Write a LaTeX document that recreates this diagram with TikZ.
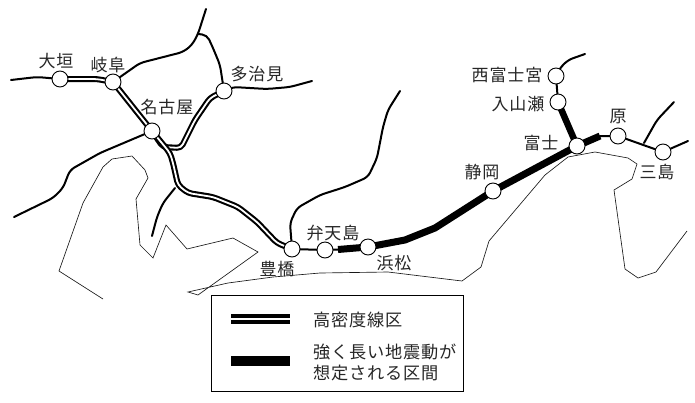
\documentclass[tikz,border=0pt]{standalone}
\usepackage{fontspec}
\setmainfont{Noto Sans CJK JP}[LetterSpace=5]
\usetikzlibrary{backgrounds}
\tikzset{
  station/.style={circle,draw=black,fill=white,line width=0.9pt,minimum size=16pt,inner sep=0pt},
  lbl/.style={font=\fontsize{17}{20}\selectfont,text=black!85,inner sep=0pt},
  legendtxt/.style={font=\fontsize{17.2}{21}\selectfont,text=black!85,inner sep=0pt,anchor=west,align=left},
  branch/.style={draw=black,line width=2pt,rounded corners=5pt,line cap=round},
  dense/.style={draw=black,line width=2.1pt,double=white,double distance=1.8pt,rounded corners=4pt,line join=round},
  thick line/.style={draw=black,line width=7pt,line join=round},
  coast/.style={draw=black!90,line width=0.65pt},
}
\begin{document}
\begin{tikzpicture}[x=1pt,y=-1pt]
\useasboundingbox (0,0) rectangle (695,402);
% stations
\node[station] (ogaki) at (60,79) {};
\node[station] (gifu) at (113,82) {};
\node[station] (nagoya) at (152,131) {};
\node[station] (tajimi) at (224,91) {};
\node[station] (toyohashi) at (292,249) {};
\node[station] (bentenjima) at (325,250) {};
\node[station] (hamamatsu) at (368,247) {};
\node[station] (shizuoka) at (493,191) {};
\node[station] (fuji) at (577,146) {};
\node[station] (hara) at (618,136) {};
\node[station] (mishima) at (663,152) {};
\node[station] (nishifuji) at (556,76) {};
\node[station] (iriyamase) at (558,102) {};
% labels
\node[lbl] (l1) at (56,61) {大垣};
\node[lbl] (l2) at (108,65) {岐阜};
\node[lbl] (l3) at (167,107) {名古屋};
\node[lbl] (l4) at (257,74) {多治見};
\node[lbl] (l5) at (333,233) {弁天島};
\node[lbl] (l6) at (277,269) {豊橋};
\node[lbl] (l7) at (394,263) {浜松};
\node[lbl] (l8) at (482,172) {静岡};
\node[lbl] (l9) at (541,143) {富士};
\node[lbl] (l10) at (618,117) {原};
\node[lbl] (l11) at (657,172) {三島};
\node[lbl] (l12) at (507,75) {西富士宮};
\node[lbl] (l13) at (518,104) {入山瀬};
% free ends and junctions
\coordinate (endW) at (11,80);
\coordinate (endN) at (206,9);
\coordinate (forkN) at (198,34);
\coordinate (endE) at (312,81);
\coordinate (endSW) at (14,217);
\coordinate (forkS) at (175,188);
\coordinate (endS) at (152,236);
\coordinate (endT) at (400,91);
\coordinate (thickA) at (338,249.5);
\coordinate (thickB) at (600,136);
\coordinate (forkH) at (644,143);
\coordinate (endH) at (674,102);
\coordinate (endM) at (688,141);
\coordinate (endF) at (585,54);
\begin{scope}[on background layer]
% thin coastline
\draw[coast] (103,299) -- (59,271) -- (83,203) -- (103,167) -- (112,159) -- (132,156) -- (145,170) -- (148,178) -- (136,199) -- (140,245) -- (153,258) -- (166,225) -- (187,249) -- (233,238) -- (258,252) -- (198,295) -- (188,292) -- (228,283) -- (273,277) -- (320,273) -- (388,272) -- (462,281) -- (481,267) -- (489,241) -- (545,175) -- (568,157) -- (595,152) -- (628,158) -- (637,164) -- (632,179) -- (614,190) -- (625,269) -- (638,278) -- (656,272) -- (687,231);
% single lines
\draw[branch] (endW) -- (37,77) -- (ogaki.center);
\draw[branch] (gifu.center) -- (140,63) -- (183,52) -- (192,45) -- (forkN) -- (endN);
\draw[branch] (forkN) -- (207,35) -- (213,48) -- (220,65) -- (tajimi.center);
\draw[branch] (tajimi.center) -- (233,87) -- (267,89) -- (290,87) -- (endE);
\draw[branch] (nagoya.center) -- (100,153) -- (70,170) -- (63,188) -- (53,198) -- (endSW);
\draw[branch] (forkS) -- (163,203) -- (157,217) -- (endS);
\draw[branch] (toyohashi.center) -- (290,223) -- (297,208) -- (320,195) -- (345,187) -- (368,177) -- (377,158) -- (383,127) -- (388,110) -- (endT);
\draw[branch] (toyohashi.center) -- (bentenjima.center) -- (thickA);
\draw[branch] (thickB) -- (hara.center) -- (mishima.center) -- (endM);
\draw[branch] (forkH) -- (657,120) -- (endH);
\draw[branch] (nishifuji.center) -- (560,68) -- (568,60) -- (endF);
\draw[branch] (nishifuji.center) -- (iriyamase.center);
% dense sections
\draw[dense] (ogaki.center) -- (97,79) -- (gifu.center);
\draw[dense] (gifu.center) -- (nagoya.center);
\draw[dense] (nagoya.center) -- (163,147) -- (181,148) -- (195,120) -- (210,98) -- (tajimi.center);
\draw[dense] (nagoya.center) -- (170,153) -- (173,163) -- (178,185) -- (188,193) -- (213,197) -- (238,207) -- (257,222) -- (277,243) -- (toyohashi.center);
% strong motion sections
\draw[thick line] (thickA) -- (hamamatsu.center) -- (405,240) -- (435,228) -- (shizuoka.center) -- (fuji.center) -- (thickB);
\draw[thick line,line width=6.5pt] (iriyamase.center) -- (fuji.center);
\end{scope}
% legend
\node[draw=black,line width=0.9pt,fill=none,minimum width=252pt,minimum height=96pt,inner sep=0pt] (legend) at (337,343) {};
\coordinate (d1) at (231,319);
\coordinate (d2) at (290,319);
\coordinate (t1) at (231,361);
\coordinate (t2) at (290,361);
\draw[draw=black,line width=3.3pt,double=white,double distance=2.8pt] (d1) -- (d2);
\draw[draw=black,line width=9.5pt] (t1) -- (t2);
\node[legendtxt] (lg1) at (313,320) {高密度線区};
\node[legendtxt] (lg2) at (313,362.5) {強く長い地震動が\\想定される区間};
\end{tikzpicture}
\end{document}
